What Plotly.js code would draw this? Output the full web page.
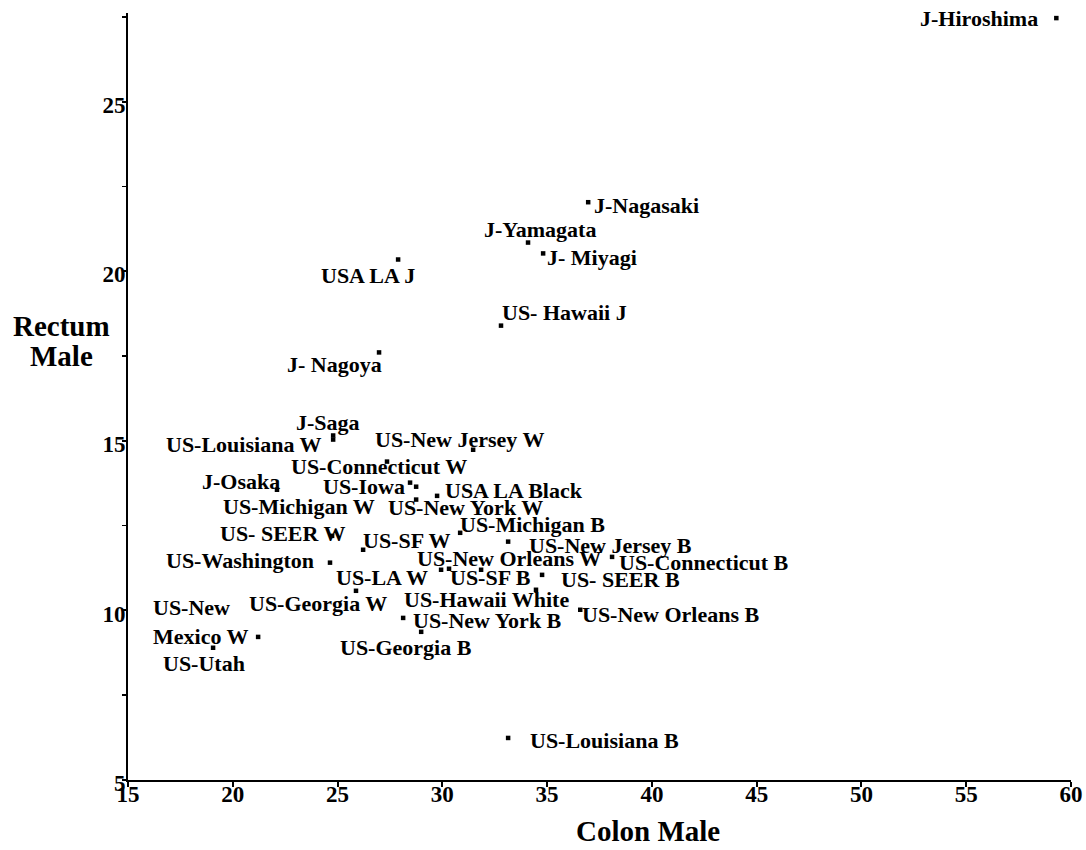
<!DOCTYPE html>
<html>
<head>
<meta charset="utf-8">
<script src="https://cdn.plot.ly/plotly-3.0.1.min.js"></script>
<style>html,body{margin:0;padding:0;background:#fff;}#chart{width:1086px;height:850px;}</style>
</head>
<body>
<div id="chart"></div>
<script>
// Data
const labels = [
  "J-Hiroshima", "J-Nagasaki", "J-Yamagata", "J- Miyagi", "USA LA J",
  "US- Hawaii J", "J- Nagoya", "J-Saga", "US-Louisiana W", "US-Connecticut W",
  "US-New Jersey W", "J-Osaka", "US-Iowa", "US-Michigan W", "US-New York W",
  "USA LA Black", "US-Michigan B", "US- SEER W", "US-SF W", "US-New Jersey B",
  "US-Washington", "US-Connecticut B", "US-LA W", "US-SF B", "US-New Orleans W",
  "US-Georgia W", "US- SEER B", "US-Hawaii White", "US-New Orleans B", "US-New York B",
  "US-Georgia B", "US-New<br>Mexico W", "US-Utah", "US-Louisiana B"
];
const colonMale = [
  59.30, 36.96, 34.09, 34.81, 27.89,
  32.80, 26.98, 24.79, 24.79, 27.36,
  31.47, 22.11, 28.46, 28.75, 28.75,
  29.75, 30.85, 24.74, 26.22, 33.14,
  24.64, 38.10, 29.94, 30.32, 31.85,
  25.88, 34.76, 34.47, 36.58, 28.13,
  28.99, 21.21, 19.06, 33.14
];
const rectumMale = [
  27.47, 22.04, 20.85, 20.53, 20.35,
  18.40, 17.61, 15.16, 15.04, 14.39,
  14.74, 13.56, 13.77, 13.65, 13.27,
  13.38, 12.29, 12.20, 11.79, 12.03,
  11.41, 11.58, 11.20, 11.23, 11.20,
  10.58, 11.05, 10.61, 10.02, 9.78,
  9.37, 9.22, 8.90, 6.24
];
const xTitle = "Colon Male";
const yTitleLines = ["Rectum", "Male"];

// Label placement (pixel offsets of each label from its point) - style only
const labelOffsets = [
  [-77, 0], [58, -3], [12, 13], [49, -4], [-30, -16],
  [63, 13], [-45, -12], [-5, 13], [-90, -5], [-8, -5],
  [-14, 10], [-36, 8], [-46, -4], [-117, -20], [49, -8],
  [77, 5], [72, 8], [-49, 2], [43, 9], [102, -4],
  [-90, 2], [92, -6], [-59, -8], [41, -9], [28, 11],
  [-38, -13], [78, -5], [-50, -10], [91, -5], [84, -3],
  [-15, -16], [-57, 15], [-9, -16], [96, -3]
];

const FONT = "'Liberation Serif', 'Times New Roman', Times, serif";

const trace = {
  type: 'scatter',
  mode: 'markers',
  x: colonMale,
  y: rectumMale,
  text: labels,
  hoverinfo: 'text',
  marker: {symbol: 'square', size: 4.5, color: '#000'}
};

const annotations = labels.map((t, i) => ({
  x: colonMale[i], y: rectumMale[i], xref: 'x', yref: 'y',
  text: t, showarrow: false,
  xshift: labelOffsets[i][0], yshift: labelOffsets[i][1],
  xanchor: 'center', yanchor: 'middle', align: 'left',
  font: {family: FONT, size: 22, color: '#000', weight: 'bold'}
}));

annotations.push({
  xref: 'paper', yref: 'paper', x: 0.551, y: -0.066,
  text: xTitle, showarrow: false, xanchor: 'center', yanchor: 'middle',
  font: {family: FONT, size: 29, color: '#000', weight: 'bold'}
});
const yTitleY = [0.592, 0.553];
yTitleLines.forEach((t, i) => annotations.push({
  xref: 'paper', yref: 'paper', x: -0.071, y: yTitleY[i],
  text: t, showarrow: false, xanchor: 'center', yanchor: 'middle',
  font: {family: FONT, size: 29, color: '#000', weight: 'bold'}
}));

const layout = {
  width: 1086, height: 850,
  margin: {l: 128, r: 15, t: 13, b: 70, pad: 0},
  paper_bgcolor: '#fff', plot_bgcolor: '#fff',
  showlegend: false,
  xaxis: {
    range: [15, 60], tick0: 15, dtick: 5,
    showline: true, linecolor: '#000', linewidth: 2,
    showgrid: false, zeroline: false,
    ticks: 'outside', ticklen: 5, tickwidth: 2, tickcolor: '#000',
    ticklabelstandoff: -13,
    tickfont: {family: FONT, size: 23, color: '#000', weight: 'bold'}
  },
  yaxis: {
    range: [5, 27.62], tick0: 5, dtick: 5,
    showline: true, linecolor: '#000', linewidth: 2,
    showgrid: false, zeroline: false,
    ticks: 'outside', ticklen: 4, tickwidth: 2, tickcolor: '#000',
    ticklabelstandoff: -8, ticklabelshift: 3,
    tickfont: {family: FONT, size: 23, color: '#000', weight: 'bold'},
    minor: {tick0: 5, dtick: 2.5, ticks: 'outside', ticklen: 4, tickwidth: 1.5, tickcolor: '#000', showgrid: false}
  },
  annotations: annotations
};

Plotly.newPlot('chart', [trace], layout, {displayModeBar: false, staticPlot: true});
</script>
</body>
</html>
